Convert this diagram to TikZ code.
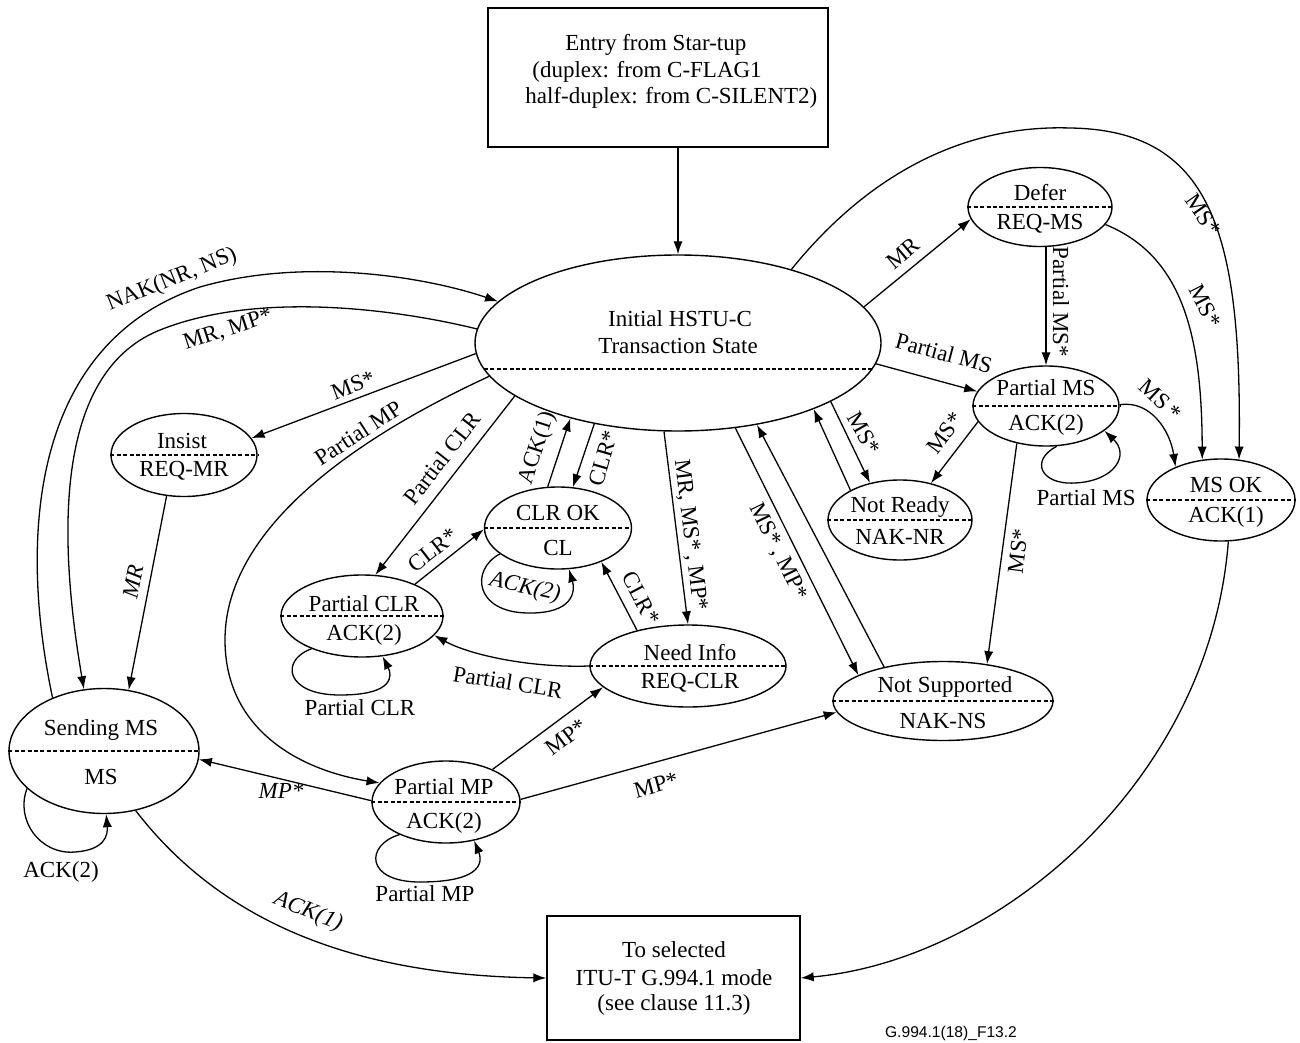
\documentclass[tikz,border=0pt]{standalone}
\usepackage{fontspec}
\setmainfont{Liberation Serif}
\newfontfamily\footfont{Liberation Sans}
\usetikzlibrary{shapes.geometric,arrows.meta,calc}
\begin{document}
\begin{tikzpicture}[x=0.5pt,y=-0.5pt,
  st/.style={draw, ellipse, inner sep=0pt, line width=0.7pt},
  bx/.style={draw, rectangle, inner sep=0pt, line width=0.7pt},
  tx/.style={inner sep=0pt, font=\fontsize{11.5}{13}\selectfont},
  il/.style={inner sep=0pt, font=\fontsize{11.5}{13}\selectfont\itshape},
  dsh/.style={line width=0.55pt, dash pattern=on 2pt off 1.2pt},
  ln/.style={line width=0.65pt, -{Latex[length=6.5pt,width=4.6pt]}},
]
\useasboundingbox (0,0) rectangle (1300,1043);

% boxes
\node[bx, minimum width=170pt, minimum height=69.5pt] (entry) at (658,77.5) {};
\node[tx, anchor=west] (entry-a) at (565,45) {Entry from Star-tup};
\node[tx, anchor=west] (entry-b) at (532,72) {(duplex: from C-FLAG1};
\node[tx, anchor=west] (entry-c) at (525,98) {half-duplex: from C-SILENT2)};

\node[bx, minimum width=126.5pt, minimum height=62pt] (exit) at (673.5,978) {};
\node[tx] (exit-a) at (674,950) {To selected};
\node[tx] (exit-b) at (674,978) {ITU-T G.994.1 mode};
\node[tx] (exit-c) at (674,1005) {(see clause 11.3)};

\node[inner sep=0pt, font=\footfont\fontsize{7.8}{9}\selectfont] (fig) at (951,1033) {G.994.1(18)\_F13.2};

% states
\node[st, minimum width=203pt, minimum height=88pt] (init) at (678,343) {};
\node[tx] (init-a) at (680,319) {Initial HSTU-C};
\node[tx] (init-b) at (678,346) {Transaction State};
\draw[dsh] ($(init.center)+(-194,26)$) -- ($(init.center)+(194,26)$);

\node[st, minimum width=72pt, minimum height=39.5pt] (defer) at (1040,207) {};
\node[tx] (defer-a) at (1040,193) {Defer};
\node[tx] (defer-b) at (1040,224) {REQ-MS};

\node[st, minimum width=73pt, minimum height=40pt] (pms) at (1046,406) {};
\node[tx] (pms-a) at (1046,388) {Partial MS};
\node[tx] (pms-b) at (1046,425) {ACK(2)};

\node[st, minimum width=74pt, minimum height=41pt] (msok) at (1221,500) {};
\node[tx] (msok-a) at (1226,485) {MS OK};
\node[tx] (msok-b) at (1226,517) {ACK(1)};

\node[st, minimum width=72pt, minimum height=40pt] (nr) at (900,520) {};
\node[tx] (nr-a) at (900,507) {Not Ready};
\node[tx] (nr-b) at (900,537) {NAK-NR};

\node[st, minimum width=73pt, minimum height=41.5pt] (insist) at (184,455) {};
\node[tx] (insist-a) at (182,441) {Insist};
\node[tx] (insist-b) at (184,471) {REQ-MR};

\node[st, minimum width=73.5pt, minimum height=41pt] (clrok) at (558,528) {};
\node[tx] (clrok-a) at (558,513) {CLR OK};
\node[tx] (clrok-b) at (558,548) {CL};

\node[st, minimum width=81pt, minimum height=41pt] (pclr) at (362,616) {};
\node[tx] (pclr-a) at (364,604) {Partial CLR};
\node[tx] (pclr-b) at (364,635) {ACK(2)};

\node[st, minimum width=95pt, minimum height=62.5pt] (sms) at (104,751) {};
\node[tx] (sms-a) at (101,730) {Sending MS};
\node[tx] (sms-b) at (101,777) {MS};

\node[st, minimum width=74pt, minimum height=41pt] (pmp) at (446,802) {};
\node[tx] (pmp-a) at (444,787) {Partial MP};
\node[tx] (pmp-b) at (444,823) {ACK(2)};

\node[st, minimum width=98pt, minimum height=41pt] (need) at (688,666) {};
\node[tx] (need-a) at (690,653) {Need Info};
\node[tx] (need-b) at (690,683) {REQ-CLR};

\node[st, minimum width=110pt, minimum height=39.5pt] (ns) at (943,701) {};
\node[tx] (ns-a) at (945,687) {Not Supported};
\node[tx] (ns-b) at (943,721) {NAK-NS};

\foreach \n in {defer,pms,msok,nr,insist,clrok,pclr,sms,pmp,need,ns}
  \draw[dsh] (\n.west) -- (\n.east);

% connectors
\draw[ln] (entry.south -| init.north) -- (init.north);

\draw[ln] (sms.134) .. controls (15,520) and (40,340) .. (200,287)
  .. controls (300,258) and (420,275) .. (init.167);
\node[tx, rotate=22] (l-nak) at (172,280) {NAK(NR, NS)};

\draw[ln] (init.176) .. controls (400,310) and (260,290) .. (160,330)
  .. controls (60,370) and (55,520) .. (sms.108);
\node[tx, rotate=18] (l-mrmp) at (228,330) {MR, MP*};

\draw[ln] (init.183) -- (insist.14);
\node[tx, rotate=21] (l-ms1) at (353,385) {MS*};

\draw[ln] (init.190) .. controls (330,450) and (225,540) .. (225,640)
  .. controls (225,730) and (300,770) .. (pmp.164);
\node[tx, rotate=33] (l-pmp) at (358,433) {Partial MP};

\draw[ln] (init.198) -- (pclr.72);
\node[tx, rotate=52] (l-pclr1) at (442,458) {Partial CLR};

\draw[ln] (pclr.31) -- (clrok.181);
\node[tx, rotate=38] (l-clr1) at (433,550) {CLR*};

\draw[ln] (clrok.104) -- (init.215);
\node[tx, rotate=72] (l-ack1a) at (538,448) {ACK(1)};

\draw[ln] (init.224) -- (clrok.70);
\node[tx, rotate=74] (l-clr2) at (603,458) {CLR*};

\draw[ln] (init.261) -- (need.90);
\node[tx, rotate=-83] (l-mrmsmp) at (690,535) {MR, MS*\,, MP*};

\draw[ln] (need.145) -- (clrok.322);
\node[tx, rotate=-62] (l-clr3) at (641,598) {CLR*};

\draw[ln] (need.180) .. controls (530,668) and (470,655) .. (pclr.345);
\node[tx, rotate=-9] (l-pclr2) at (508,682) {Partial CLR};

\draw[ln] (clrok.204) .. controls (470,570) and (475,612) .. (527,613)
  .. controls (575,614) and (575,590) .. (clrok.285);
\node[il, rotate=-12] (l-ack2c) at (525,588) {ACK(2)};

\draw[ln] (pclr.213) .. controls (280,660) and (285,695) .. (340,695)
  .. controls (395,695) and (392,675) .. (pclr.297);
\node[tx] (l-pclr3) at (360,708) {Partial CLR};

\draw[ln] (pmp.35) -- (need.194);
\node[tx, rotate=37] (l-mp1) at (566,737) {MP*};

\draw[ln] (pmp.2) -- (ns.186);
\node[tx, rotate=15] (l-mp2) at (656,785) {MP*};

\draw[ln] (pmp.179) -- (sms.355);
\node[il] (l-mp3) at (281,791) {MP*};

\draw[ln] (pmp.215) .. controls (365,845) and (365,882) .. (420,882)
  .. controls (485,882) and (482,860) .. (pmp.306);
\node[tx] (l-pmp2) at (425,894) {Partial MP};

\draw[ln] (sms.206) .. controls (15,820) and (40,855) .. (75,852)
  .. controls (105,850) and (108,835) .. (sms.272);
\node[tx] (l-ack2s) at (61,872) {ACK(2)};

\draw[ln] (sms.298) .. controls (220,920) and (350,975) .. (exit.west);
\node[il, rotate=-22] (l-ack1b) at (308,912) {ACK(1)};

\draw[ln] (insist.247) -- (sms.68);
\node[il, rotate=79] (l-mr1) at (133,582) {MR};

\draw[ln] (init.11) -- (defer.190);
\node[tx, rotate=40] (l-mr2) at (903,253) {MR};

\draw[ln] (init.33) .. controls (880,160) and (980,125) .. (1070,128)
  .. controls (1210,130) and (1242,230) .. (msok.66);
\node[tx, rotate=-55] (l-ms2) at (1203,215) {MS*};

\draw[ln] (defer.345) .. controls (1180,255) and (1202,330) .. (msok.115);
\node[tx, rotate=-63] (l-ms3) at (1205,306) {MS*};

\draw[ln] (pms.north |- defer.south) -- (pms.north);
\node[tx, rotate=-90] (l-pms1) at (1061,302) {Partial MS*};

\draw[ln] (init.354) -- (pms.168);
\node[tx, rotate=-15] (l-pms2) at (944,353) {Partial MS};

\draw[ln] (pms.1) .. controls (1150,400) and (1170,430) .. (msok.144);
\node[tx, rotate=-43] (l-ms4) at (1160,400) {MS\,*};

\draw[ln] (pms.285) .. controls (1030,460) and (1040,485) .. (1075,483)
  .. controls (1115,481) and (1130,455) .. (pms.337);
\node[tx] (l-pms3) at (1086,498) {Partial MS};

\draw[ln] (pms.193) -- (nr.50);
\node[tx, rotate=53] (l-ms5) at (945,433) {MS*};

\draw[ln] (init.339) -- (nr.129);
\node[tx, rotate=-60] (l-ms6) at (864,433) {MS*};

\draw[ln] (nr.149) -- (init.334);

\draw[ln] (init.304) -- (ns.163);
\node[tx, rotate=-64] (l-msmp) at (778,552) {MS*\,, MP*};

\draw[ln] (ns.150) -- (init.314);

\draw[ln] (pms.232) -- (ns.40);
\node[tx, rotate=83] (l-ms7) at (1018,551) {MS*};

\draw[ln] (msok.280) .. controls (1210,780) and (1000,960) .. (exit.east);
\end{tikzpicture}
\end{document}
